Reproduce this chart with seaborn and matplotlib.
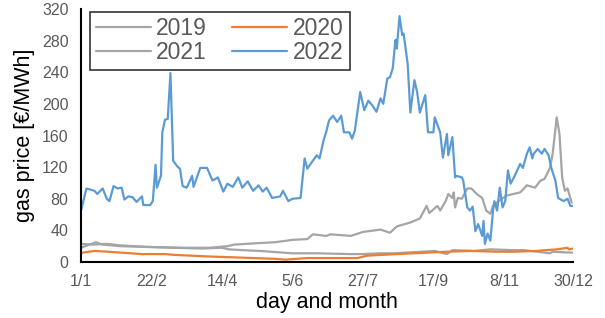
import matplotlib
matplotlib.use("Agg")
import matplotlib.pyplot as plt
import seaborn as sns
import pandas as pd
from matplotlib.lines import Line2D

# ---- data (day of year, price in EUR/MWh) ----
days_2019 = [1, 10, 20, 30, 50, 70, 90, 105, 110, 120, 133, 157, 175, 200, 208, 222, 232, 262, 271, 275, 291, 303, 320, 328, 347, 349, 360, 364]
vals_2019 = [23, 22, 23, 21, 19, 18, 17, 18, 16, 15, 14, 11, 11, 10, 10, 11, 11, 14, 10, 15, 14, 16, 15, 15, 11, 13, 12, 12]

days_2020 = [1, 11, 21, 46, 63, 70, 95, 120, 144, 152, 168, 185, 205, 212, 234, 246, 271, 288, 308, 320, 337, 352, 360, 361, 364]
vals_2020 = [11.5, 14, 13, 10, 10, 9, 7, 5.5, 4, 3, 5, 5, 5, 8, 10, 11, 13, 14, 13, 13, 14, 16, 18, 16, 17]

days_2021 = [1, 12, 17, 30, 52, 74, 96, 109, 114, 133, 144, 157, 168, 172, 182, 185, 200, 209, 222, 229, 234, 244, 251, 256, 258,
             264, 266, 270, 272, 275, 276, 277, 279, 282, 286, 289, 293, 297, 300, 303, 305, 309, 315, 320, 325, 330, 336, 340,
             343, 347, 349, 352, 354, 356, 358, 360, 363]
vals_2021 = [18, 25, 22, 20, 19, 18, 18, 20, 22, 24, 25, 28, 29, 35, 33, 35, 33, 38, 41, 37, 45, 50, 55, 71, 62,
             71, 65, 77, 86, 81, 88, 69, 81, 80, 93, 93, 86, 81, 65, 61, 71, 77, 84, 86, 88, 97, 94, 103,
             105, 119, 137, 183, 162, 107, 90, 93, 75]

days_2022 = [1, 5, 11, 13, 17, 20, 22, 25, 28, 31, 33, 36, 39, 42, 46, 47, 52, 54, 56, 57, 60, 61, 63, 65, 67, 69, 72, 74, 76, 79,
             83, 84, 89, 92, 94, 98, 102, 106, 109, 113, 117, 120, 124, 128, 132, 135, 138, 142, 148, 150, 154, 157, 163, 166,
             168, 172, 175, 177, 180, 182, 184, 187, 190, 193, 195, 199, 201, 203, 207, 210, 213, 216, 219, 222, 224, 227, 229,
             231, 233, 234, 236, 238, 239, 242, 244, 247, 249, 251, 255, 257, 261, 262, 266, 268, 271, 272, 275, 277, 278, 282,
             283, 286, 288, 290, 292, 294, 297, 298, 299, 301, 303, 305, 306, 308, 310, 312, 314, 316, 318, 321, 325, 327, 330,
             332, 334, 335, 338, 341, 343, 346, 348, 351, 353, 357, 360, 362, 364]
vals_2022 = [65, 93, 90, 86, 93, 80, 77, 96, 93, 94, 79, 83, 82, 76, 83, 72, 72, 77, 123, 94, 109, 164, 180, 181, 239, 128, 121, 118, 96, 94,
             109, 95, 119, 119, 119, 103, 107, 89, 99, 95, 107, 94, 102, 90, 97, 89, 94, 81, 83, 90, 77, 80, 81, 131,
             118, 128, 135, 131, 154, 165, 179, 185, 177, 185, 164, 164, 156, 166, 215, 192, 204, 198, 190, 207, 200, 232, 234,
             245, 281, 270, 311, 287, 289, 251, 189, 230, 215, 189, 211, 164, 164, 183, 164, 132, 162, 135, 158, 107, 109, 107,
             103, 69, 65, 70, 39, 48, 33, 52, 23, 36, 27, 65, 77, 65, 94, 69, 77, 116, 99, 109, 124, 119, 137,
             145, 131, 137, 143, 137, 143, 135, 119, 103, 81, 77, 80, 71, 71]

tick_days = [1, 53, 105, 157, 209, 261, 313, 364]
tick_labels = ["1/1", "22/2", "14/4", "5/6", "27/7", "17/9", "8/11", "30/12"]
y_ticks = [0, 40, 80, 120, 160, 200, 240, 280, 320]

series = {"2019": (days_2019, vals_2019), "2020": (days_2020, vals_2020),
          "2021": (days_2021, vals_2021), "2022": (days_2022, vals_2022)}
frames = [pd.DataFrame({"day": d, "price": v, "year": y}) for y, (d, v) in series.items()]
df = pd.concat(frames, ignore_index=True)

palette = {"2019": "#A5A5A5", "2020": "#ED7D31", "2021": "#A5A5A5", "2022": "#5B9BD5"}

sns.set_style("white")
plt.rcParams["font.family"] = ["Liberation Sans", "DejaVu Sans"]

fig = plt.figure(figsize=(6.05, 3.18), dpi=100)
ax = fig.add_axes([81 / 605, 56 / 318, 492 / 605, 253 / 318])

sns.lineplot(data=df, x="day", y="price", hue="year", palette=palette,
             estimator=None, sort=False, linewidth=1.6, ax=ax, legend=False)

ax.set_xlim(1, 364)
ax.set_ylim(0, 320)
ax.set_xticks(tick_days)
ax.set_xticklabels(tick_labels)
ax.set_yticks(y_ticks)
ax.tick_params(axis="both", direction="in", length=4, width=1.2, colors="black",
               labelcolor="#595959", labelsize=11.5)
ax.tick_params(axis="x", pad=9)
ax.tick_params(axis="y", pad=9)
for s in ["top", "right"]:
    ax.spines[s].set_visible(False)
for s in ["left", "bottom"]:
    ax.spines[s].set_color("black")
    ax.spines[s].set_linewidth(1.5)

ax.set_xlabel("day and month", fontsize=15.5, color="black", labelpad=2)
ax.set_ylabel("gas price [€/MWh]", fontsize=15.5, color="black", labelpad=5)

order = ["2019", "2021", "2020", "2022"]
handles = [Line2D([0], [0], color=palette[y], lw=1.6) for y in order]
leg = ax.legend(handles, order, ncol=2, loc="upper left", bbox_to_anchor=(0.018, 0.99),
                fontsize=16.5, frameon=True, fancybox=False, edgecolor="black",
                handlelength=2.4, handletextpad=0.25, columnspacing=1.1,
                labelspacing=0.05, borderpad=0.25, borderaxespad=0)
leg.get_frame().set_linewidth(1.2)
for t in leg.get_texts():
    t.set_color("#595959")

fig.savefig("out.png", dpi=100)
